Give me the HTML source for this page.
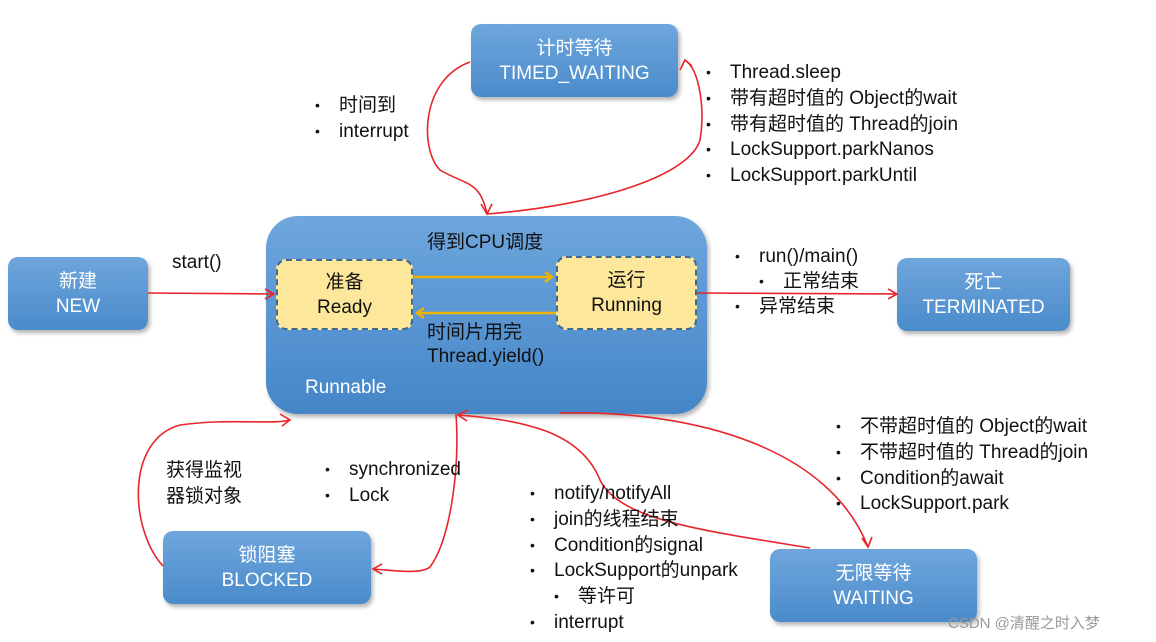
<!DOCTYPE html>
<html><head><meta charset="utf-8"><style>
body{margin:0;width:1156px;height:642px;background:#fff;position:relative;overflow:hidden;font-family:"Liberation Sans","Noto Sans CJK SC",sans-serif;}
.b{position:absolute;border-radius:10px;background:linear-gradient(#6fa6dc,#4a8bcb);box-shadow:2px 3px 4px rgba(0,0,0,.3);color:#fff;text-align:center;font-size:19px;line-height:25px;display:flex;flex-direction:column;justify-content:center;}
.y{position:absolute;border:2px dashed #3d6a96;border-radius:10px;background:#fde79b;color:#111;text-align:center;font-size:19px;line-height:25px;display:flex;flex-direction:column;justify-content:center;box-sizing:border-box;}
.t{position:absolute;font-size:19px;line-height:26px;color:#111;white-space:nowrap;}
.l{position:absolute;font-size:19px;line-height:25.8px;color:#111;white-space:nowrap;margin:0;padding:0;list-style:none;}
.l li::before{content:"•";display:inline-block;width:24px;font-size:14px;vertical-align:top;}
</style></head><body>
<div class="b" style="left:266px;top:216px;width:441px;height:198px;border-radius:32px;background:linear-gradient(#6ea6dd,#4586c8);"></div>
<div class="t" style="left:305px;top:375px;color:#fff;">Runnable</div>
<div class="t" style="left:427px;top:230px;">得到CPU调度</div>
<div class="t" style="left:427px;top:321px;line-height:24px;">时间片用完<br>Thread.yield()</div>
<div class="y" style="left:276px;top:259px;width:137px;height:71px;"><div>准备</div><div>Ready</div></div>
<div class="y" style="left:556px;top:256px;width:141px;height:74px;"><div>运行</div><div>Running</div></div>
<div class="b" style="left:471px;top:24px;width:207px;height:73px;"><div>计时等待</div><div>TIMED_WAITING</div></div>
<div class="b" style="left:8px;top:257px;width:140px;height:73px;"><div>新建</div><div>NEW</div></div>
<div class="b" style="left:897px;top:258px;width:173px;height:73px;"><div>死亡</div><div>TERMINATED</div></div>
<div class="b" style="left:163px;top:531px;width:208px;height:73px;"><div>锁阻塞</div><div>BLOCKED</div></div>
<div class="b" style="left:770px;top:549px;width:207px;height:73px;"><div>无限等待</div><div>WAITING</div></div>
<svg width="1156" height="642" style="position:absolute;left:0;top:0" fill="none">
<g stroke="#e8252a" stroke-width="1.6">
<path d="M470 62 C420 80 420 150 440 170 C465 185 480 180 487 214"/><path d="M481 204 L487 214 L492 204"/>
<path d="M487 214 C600 205 690 175 700 140 C705 110 700 70 685 60"/><path d="M680 70 L685 60 L692 66"/>
<path d="M148 293 L274 294"/><path d="M265 289 L274 294 L265 299"/>
<path d="M697 293 L897 294"/><path d="M888 289 L897 294 L888 299"/>
<path d="M163 566 C130 530 125 440 180 425 C230 418 270 425 290 420"/><path d="M280 414 L290 420 L282 426"/>
<path d="M456 414 C460 470 450 540 430 567 C420 575 390 570 373 569"/><path d="M382 564 L373 569 L382 574"/>
<path d="M810 548 C700 530 620 520 600 480 C580 430 520 420 458 415"/><path d="M468 410 L458 415 L467 421"/>
<path d="M560 413 C700 410 830 450 868 547"/><path d="M862 538 L868 547 L872 537"/>
</g>
<g stroke="#f0b400" stroke-width="2.4">
<path d="M414 277 L552 277"/><path d="M545 272 L552 277 L545 282"/>
<path d="M556 313 L417 313"/><path d="M424 308 L417 313 L424 318"/>
</g>
</svg>
<div class="t" style="left:172px;top:250px;">start()</div>
<ul class="l" style="left:315px;top:93px;"><li>时间到</li><li>interrupt</li></ul>
<ul class="l" style="left:706px;top:60px;"><li>Thread.sleep</li><li>带有超时值的 Object的wait</li><li>带有超时值的 Thread的join</li><li>LockSupport.parkNanos</li><li>LockSupport.parkUntil</li></ul>
<ul class="l" style="left:735px;top:244px;line-height:25px;"><li>run()/main()</li><li style="padding-left:24px">正常结束</li><li>异常结束</li></ul>
<ul class="l" style="left:836px;top:414px;"><li>不带超时值的 Object的wait</li><li>不带超时值的 Thread的join</li><li>Condition的await</li><li>LockSupport.park</li></ul>
<div class="t" style="left:166px;top:458px;">获得监视<br>器锁对象</div>
<ul class="l" style="left:325px;top:457px;"><li>synchronized</li><li>Lock</li></ul>
<ul class="l" style="left:530px;top:481px;"><li>notify/notifyAll</li><li>join的线程结束</li><li>Condition的signal</li><li>LockSupport的unpark</li><li style="padding-left:24px">等许可</li><li>interrupt</li></ul>
<div class="t" style="left:948px;top:611px;font-size:15px;color:#999;">CSDN @清醒之时入梦</div>
</body></html>
